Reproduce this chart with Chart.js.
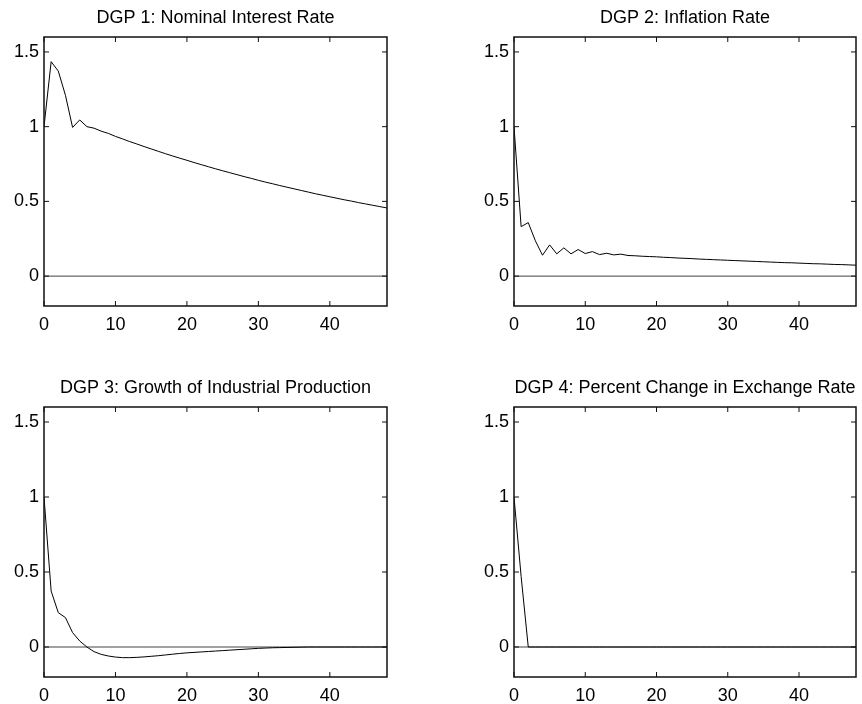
<!DOCTYPE html>
<html>
<head>
<meta charset="utf-8">
<script src="https://cdn.jsdelivr.net/npm/chart.js@4.4.1/dist/chart.umd.min.js"></script>
<style>
  body { margin: 0; background: #fff; overflow: hidden; }
  canvas { position: absolute; }
</style>
</head>
<body>
<canvas id="c1" width="392" height="334" style="left:0px;top:0px"></canvas>
<canvas id="c2" width="391" height="334" style="left:470px;top:0px"></canvas>
<canvas id="c3" width="392" height="334" style="left:0px;top:370px"></canvas>
<canvas id="c4" width="391" height="334" style="left:470px;top:370px"></canvas>
<script>
// horizon (months after the shock)
const horizon = [0, 1, 2, 3, 4, 5, 6, 7, 8, 9, 10, 11, 12, 13, 14, 15, 16, 17, 18, 19, 20,
  21, 22, 23, 24, 25, 26, 27, 28, 29, 30, 31, 32, 33, 34, 35, 36, 37, 38, 39, 40,
  41, 42, 43, 44, 45, 46, 47, 48];

const xTicks = [0, 10, 20, 30, 40];
const yTicks = [0, 0.5, 1, 1.5];
const xMin = 0, xMax = 48;
const yMin = -0.2, yMax = 1.6;

const titles = [
  "DGP 1: Nominal Interest Rate",
  "DGP 2: Inflation Rate",
  "DGP 3: Growth of Industrial Production",
  "DGP 4: Percent Change in Exchange Rate"
];

// impulse responses
const dgp1 = [1.0, 1.435, 1.372, 1.21, 0.995, 1.045, 1.0, 0.99, 0.97, 0.955, 0.935,
  0.918, 0.90, 0.884, 0.867, 0.851, 0.835, 0.819, 0.804, 0.789, 0.775,
  0.76, 0.746, 0.732, 0.718, 0.705, 0.692, 0.679, 0.666, 0.654, 0.641,
  0.629, 0.618, 0.606, 0.595, 0.584, 0.573, 0.562, 0.551, 0.541, 0.531,
  0.521, 0.511, 0.502, 0.492, 0.483, 0.474, 0.465, 0.456];

const dgp2 = [1.0, 0.331, 0.358, 0.236, 0.14, 0.209, 0.149, 0.189, 0.149, 0.178, 0.151,
  0.164, 0.144, 0.153, 0.142, 0.147, 0.138, 0.136, 0.133, 0.131, 0.129,
  0.126, 0.124, 0.121, 0.119, 0.117, 0.114, 0.112, 0.11, 0.108, 0.106,
  0.104, 0.102, 0.1, 0.098, 0.096, 0.094, 0.092, 0.09, 0.089, 0.087,
  0.085, 0.083, 0.082, 0.08, 0.078, 0.077, 0.075, 0.073];

const dgp3 = [1.0, 0.373, 0.229, 0.196, 0.096, 0.04, 0.0, -0.031, -0.049, -0.06, -0.067,
  -0.071, -0.071, -0.069, -0.066, -0.062, -0.058, -0.053, -0.048, -0.043, -0.039,
  -0.036, -0.033, -0.03, -0.027, -0.024, -0.021, -0.018, -0.015, -0.012, -0.009,
  -0.007, -0.005, -0.004, -0.003, -0.002, -0.001, 0, 0, 0, 0,
  0, 0, 0, 0, 0, 0, 0, 0];

const dgp4 = [1.0, 0.47, 0, 0, 0, 0, 0, 0, 0, 0, 0,
  0, 0, 0, 0, 0, 0, 0, 0, 0, 0,
  0, 0, 0, 0, 0, 0, 0, 0, 0, 0,
  0, 0, 0, 0, 0, 0, 0, 0, 0, 0,
  0, 0, 0, 0, 0, 0, 0, 0];

const font = { family: "'Liberation Sans', Arial, Helvetica, sans-serif", size: 18, weight: "normal" };
const tickLen = 5;

// matlab-style box with inward ticks on all four sides
const boxTicks = {
  id: "boxTicks",
  afterDatasetsDraw(chart) {
    const { ctx, chartArea: a, scales: { x, y } } = chart;
    ctx.save();
    ctx.strokeStyle = "#111";
    ctx.lineWidth = 1;
    ctx.beginPath();
    x.ticks.forEach((t) => {
      const px = x.getPixelForValue(t.value);
      ctx.moveTo(px, a.bottom);
      ctx.lineTo(px, a.bottom - tickLen);
      ctx.moveTo(px, a.top);
      ctx.lineTo(px, a.top + tickLen);
    });
    y.ticks.forEach((t) => {
      const py = y.getPixelForValue(t.value);
      ctx.moveTo(a.left, py);
      ctx.lineTo(a.left + tickLen, py);
      ctx.moveTo(a.right, py);
      ctx.lineTo(a.right - tickLen, py);
    });
    ctx.stroke();
    ctx.lineWidth = 1.5;
    ctx.strokeRect(a.left, a.top, a.right - a.left, a.bottom - a.top);
    ctx.restore();
  },
};

function makeChart(id, title, values, bottomGap) {
  const ctx = document.getElementById(id).getContext("2d");
  return new Chart(ctx, {
    type: "line",
    data: {
      labels: horizon,
      datasets: [
        {
          data: values,
          borderColor: "#000",
          borderWidth: 1,
          pointRadius: 0,
          tension: 0,
          fill: false,
          order: 1,
        },
        {
          // zero reference line
          data: [{ x: xMin, y: 0 }, { x: xMax, y: 0 }],
          borderColor: "#444",
          borderWidth: 1,
          pointRadius: 0,
          fill: false,
          order: 2,
        },
      ],
    },
    options: {
      responsive: false,
      animation: false,
      devicePixelRatio: 1,
      layout: { padding: { left: 0, top: 0, right: 5, bottom: 0 } },
      plugins: {
        legend: { display: false },
        tooltip: { enabled: false },
        title: {
          display: true,
          text: title,
          fullSize: false,
          color: "#000",
          font: font,
          padding: { top: 7, bottom: 8.4 },
        },
      },
      scales: {
        x: {
          type: "linear",
          min: xMin,
          max: xMax,
          grid: { display: false, drawTicks: false },
          border: { display: false },
          ticks: { color: "#000", font: font, padding: 8, maxRotation: 0,
            callback: (v) => String(v) },
          afterBuildTicks: (s) => { s.ticks = xTicks.map((v) => ({ value: v })); },
          afterFit: (s) => { s.height = bottomGap; },
        },
        y: {
          min: yMin,
          max: yMax,
          grid: { display: false, drawTicks: false },
          border: { display: false },
          ticks: { color: "#000", font: font, padding: 5,
            callback: (v) => String(v) },
          afterBuildTicks: (s) => { s.ticks = yTicks.map((v) => ({ value: v })); },
          afterFit: (s) => { s.width = 44; },
        },
      },
    },
    plugins: [boxTicks],
  });
}

makeChart("c1", titles[0], dgp1, 28);
makeChart("c2", titles[1], dgp2, 28);
makeChart("c3", titles[2], dgp3, 27);
makeChart("c4", titles[3], dgp4, 27);
</script>
</body>
</html>
